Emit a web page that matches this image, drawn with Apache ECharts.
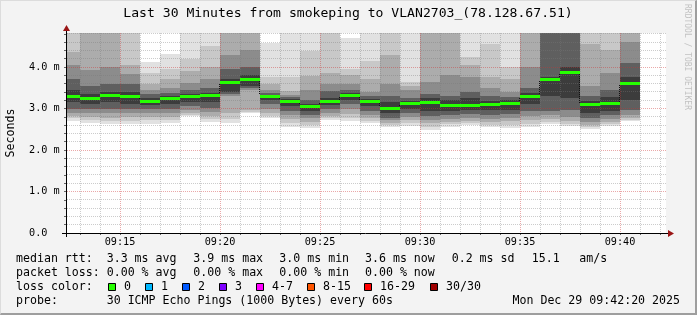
<!DOCTYPE html>
<html><head><meta charset="utf-8">
<script src="https://cdn.jsdelivr.net/npm/echarts@6/dist/echarts.min.js"></script>
<style>
html,body{margin:0;padding:0;background:#f3f3f3;}
#wrap{position:relative;width:697px;height:315px;overflow:hidden;background:#f3f3f3;}
#chart{position:absolute;left:0;top:0;width:697px;height:315px;}
#frame{position:absolute;left:0;top:0;width:697px;height:315px;box-sizing:border-box;border-top:1px solid #dcdcdc;border-left:1px solid #dcdcdc;border-right:2px solid #9e9e9e;border-bottom:2px solid #9e9e9e;pointer-events:none;}
</style></head><body>
<div id="wrap"><div id="chart"></div><div id="frame"></div></div>
<script>
// ---------------- data ----------------
const chartTitle = 'Last 30 Minutes from smokeping to VLAN2703_(78.128.67.51)';
const yUnitLabel = 'Seconds';
const watermark = 'RRDTOOL / TOBI OETIKER';

// column start minute (09:MM), each column spans one minute
const columnMinutes = [12,13,14,15,16,17,18,19,20,21,22,23,24,25,26,27,28,29,30,31,32,33,34,35,36,37,38,39,40];

// median rtt per column (ms)
const medianRtt = [3.30,3.24,3.31,3.29,3.17,3.24,3.30,3.32,3.63,3.71,3.29,3.16,3.06,3.17,3.32,3.17,3.00,3.12,3.14,3.07,3.07,3.09,3.12,3.30,3.69,3.87,3.10,3.11,3.61];

// smoke: lower ping quantiles (outer -> inner), ms
const smokeLow = [
 [2.70,2.76,2.82,2.90,3.00,3.15],
 [2.65,2.72,2.80,2.88,2.98,3.12],
 [2.62,2.70,2.78,2.88,3.00,3.15],
 [2.62,2.70,2.80,2.90,3.00,3.12],
 [2.62,2.72,2.80,2.88,2.98,3.08],
 [2.65,2.72,2.80,2.90,3.00,3.10],
 [2.82,2.85,2.90,2.97,3.05,3.15],
 [2.68,2.74,2.82,2.92,3.02,3.15],
 [2.66,2.75,2.90,3.30,3.35,3.40],
 [2.88,2.92,2.97,3.45,3.50,3.55],
 [2.76,2.82,2.90,3.00,3.10,3.20],
 [2.55,2.65,2.75,2.85,2.95,3.05],
 [2.53,2.60,2.68,2.76,2.85,2.95],
 [2.72,2.77,2.83,2.90,2.98,3.08],
 [2.71,2.78,2.87,2.98,3.10,3.20],
 [2.66,2.70,2.77,2.85,2.95,3.05],
 [2.55,2.60,2.66,2.72,2.78,2.88],
 [2.59,2.65,2.72,2.80,2.90,3.00],
 [2.49,2.56,2.64,2.72,2.82,2.95],
 [2.55,2.62,2.68,2.75,2.85,2.95],
 [2.61,2.65,2.70,2.78,2.87,2.97],
 [2.55,2.60,2.67,2.75,2.85,2.97],
 [2.54,2.60,2.70,2.78,2.87,2.97],
 [2.56,2.63,2.72,2.82,2.95,3.10],
 [2.63,2.68,2.75,2.85,2.95,3.30],
 [2.58,2.63,2.70,2.80,2.97,3.25],
 [2.51,2.55,2.60,2.67,2.76,2.88],
 [2.58,2.62,2.68,2.75,2.85,2.95],
 [2.70,2.73,2.78,2.85,2.97,3.20]
];
// smoke: upper ping quantiles (outer -> inner), ms (values above 4.82 run off the top)
const smokeHigh = [
 [5.00,5.00,4.37,4.05,3.72,3.45],
 [5.00,5.00,5.00,3.92,3.55,3.35],
 [5.00,5.00,5.00,4.00,3.60,3.40],
 [5.00,5.00,4.05,3.82,3.58,3.40],
 [4.13,3.85,3.60,3.45,3.35,3.25],
 [4.32,3.95,3.70,3.50,3.38,3.30],
 [5.00,4.20,3.90,3.62,3.45,3.35],
 [5.00,4.50,4.00,3.70,3.50,3.38],
 [5.00,5.00,5.00,4.30,3.95,3.72],
 [5.00,5.00,5.00,4.40,4.00,3.80],
 [4.58,3.75,3.60,3.45,3.38,3.33],
 [5.00,3.75,3.43,3.33,3.28,3.22],
 [5.00,4.38,3.78,3.45,3.20,3.10],
 [5.00,5.00,3.85,3.60,3.42,3.25],
 [4.70,3.95,3.80,3.60,3.45,3.38],
 [5.00,4.15,3.70,3.40,3.30,3.22],
 [5.00,5.00,4.30,3.60,3.30,3.15],
 [5.00,3.65,3.55,3.45,3.25,3.18],
 [5.00,5.00,5.00,3.65,3.35,3.25],
 [5.00,5.00,5.00,3.80,3.30,3.20],
 [5.00,4.25,4.05,3.75,3.40,3.25],
 [5.00,4.55,3.75,3.50,3.30,3.18],
 [5.00,4.00,3.70,3.40,3.28,3.20],
 [5.00,5.00,5.00,4.00,3.50,3.38],
 [5.00,5.00,5.00,5.00,5.00,3.75],
 [5.00,5.00,5.00,5.00,5.00,4.00],
 [5.00,5.00,4.55,3.55,3.30,3.18],
 [5.00,5.00,4.40,3.85,3.45,3.28],
 [5.00,5.00,5.00,4.60,4.10,3.75]
];

const xTickMinutes = [15,20,25,30,35,40];
const xTickLabels = ['09:15','09:20','09:25','09:30','09:35','09:40'];
const yTickValues = [0,1,2,3,4];
const yTickLabels = ['0.0','1.0 m','2.0 m','3.0 m','4.0 m'];

const rttHeader = 'median rtt:';
const rttStats = ['3.3 ms avg','3.9 ms max','3.0 ms min','3.6 ms now','0.2 ms sd','15.1','am/s'];
const lossHeader = 'packet loss:';
const lossStats = ['0.00 % avg','0.00 % max','0.00 % min','0.00 % now'];
const colorHeader = 'loss color:';
const lossBuckets = ['0','1','2','3','4-7','8-15','16-29','30/30'];
const lossColors = ['#26ff00','#00b8ff','#0059ff','#7e00ff','#ff00ff','#ff5500','#ff0000','#a00000'];
const probeHeader = 'probe:';
const probeText = '30 ICMP Echo Pings (1000 Bytes) every 60s';
const dateText = 'Mon Dec 29 09:42:20 2025';

// ---------------- styling / layout ----------------
const SHADES = ['#e1e1e1','#c8c8c8','#acacac','#8c8c8c','#5f5f5f','#3c3c3c'];
const MEDIAN_COLOR = '#26ff00';
const MONO = '"DejaVu Sans Mono"';
const X_MIN = 12.3, X_MAX = 42.3, Y_MAX = 4.82;
const GRID = {left:66, top:33, width:600, height:200};

// smoke items: outer pairs first so inner pairs paint over them
const smokeData = [];
for (let k = 0; k < SHADES.length; k++) {
  for (let i = 0; i < columnMinutes.length; i++) {
    smokeData.push([columnMinutes[i], columnMinutes[i] + 1, smokeLow[i][k], smokeHigh[i][k], k]);
  }
}
const medianData = columnMinutes.map((m, i) => [m, m + 1, medianRtt[i], i > 0 ? medianRtt[i-1] : medianRtt[i]]);

// grid lines: kind 0 minor x, 1 major x, 2 minor y, 3 major y
const gridData = [];
for (let m = 13; m <= 42; m++) gridData.push([m, xTickMinutes.indexOf(m) >= 0 ? 1 : 0]);
for (let j = 1; j <= 24; j++) { const v = j / 5; gridData.push([v, j % 5 === 0 ? 3 : 2]); }
const tickMinutes = []; for (let m = 13; m <= 42; m++) tickMinutes.push(m);
const yMinorTicks = []; for (let j = 0; j <= 24; j++) yMinorTicks.push(j / 5);

function renderSmoke(params, api) {
  const cs = params.coordSys;
  const p1 = api.coord([api.value(0), api.value(3)]);
  const p2 = api.coord([api.value(1), api.value(2)]);
  const x1 = Math.max(Math.round(p1[0]), cs.x + 1), x2 = Math.min(Math.round(p2[0]), cs.x + cs.width);
  const y1 = Math.max(Math.round(p1[1]), cs.y), y2 = Math.min(Math.round(p2[1]), cs.y + cs.height);
  if (x2 <= x1 || y2 <= y1) return null;
  return {type:'rect', shape:{x:x1, y:y1, width:x2 - x1, height:y2 - y1}, style:{fill:SHADES[api.value(4)]}};
}
function renderGrid(params, api) {
  const cs = params.coordSys;
  const kind = api.value(1), v = api.value(0);
  const major = kind === 1 || kind === 3;
  const stroke = major ? 'rgba(205,50,50,0.42)' : 'rgba(120,120,120,0.38)';
  if (kind < 2) {
    const x = Math.floor(api.coord([v, 0])[0]) + 0.5;
    return {type:'line', shape:{x1:x, y1:cs.y, x2:x, y2:cs.y + cs.height}, style:{stroke, lineWidth:1, lineDash:[1,1]}};
  }
  const y = Math.floor(api.coord([X_MIN, v])[1]) + 0.5;
  return {type:'line', shape:{x1:cs.x + 1, y1:y, x2:cs.x + cs.width, y2:y}, style:{stroke, lineWidth:1, lineDash:[1,1]}};
}
function renderMedian(params, api) {
  const cs = params.coordSys;
  const p1 = api.coord([api.value(0), api.value(2)]);
  const p2 = api.coord([api.value(1), api.value(2)]);
  const pPrev = api.coord([api.value(0), api.value(3)]);
  const x1 = Math.max(Math.round(p1[0]), cs.x + 1), x2 = Math.min(Math.round(p2[0]), cs.x + cs.width);
  const yc = Math.round(p1[1] - 1.5);
  const children = [{type:'rect', shape:{x:x1, y:yc, width:x2 - x1, height:3}, style:{fill:MEDIAN_COLOR}}];
  const yp = Math.round(pPrev[1] - 1.5);
  if (Math.abs(yp - yc) > 3) {
    const top = Math.min(yp, yc) + 3, bot = Math.max(yp, yc);
    children.push({type:'line', shape:{x1:x1 - 0.5, y1:top, x2:x1 - 0.5, y2:bot}, style:{stroke:'#111', lineWidth:1, lineDash:[1,1]}});
  }
  return {type:'group', children};
}

// ---------------- graphic texts ----------------
const legendFont = '11.6px ' + MONO;
function txt(x, y, text, opt) {
  opt = opt || {};
  return {type:'text', x, y, rotation: opt.rotation || 0, silent:true, z:100,
    style:{text, font: opt.font || legendFont, fill: opt.fill || '#000', align: opt.align || 'left', textAlign: opt.align || 'left', verticalAlign:'middle', textVerticalAlign:'middle'}};
}
const graphics = [];
graphics.push(txt(348, 13.5, chartTitle, {font:'13.1px ' + MONO, align:'center'}));
graphics.push(txt(10.5, 133, yUnitLabel, {rotation: Math.PI/2, align:'center'}));
graphics.push(txt(687, 4, watermark, {rotation: -Math.PI/2, font:'8px ' + MONO, fill:'#c2c2c2'}));
const row = [258.8, 272.8, 287.2, 301];
graphics.push(txt(16, row[0], rttHeader));
const rttX = [106.7, 193.3, 279.3, 365, 451.7, 531.7, 579.3];
rttStats.forEach((s, i) => graphics.push(txt(rttX[i], row[0], s)));
graphics.push(txt(16, row[1], lossHeader));
lossStats.forEach((s, i) => graphics.push(txt(rttX[i], row[1], s)));
graphics.push(txt(16, row[2], colorHeader));
const boxX = [108.5, 145.5, 182.5, 219.5, 256.5, 307.5, 364.5, 430.5];
lossBuckets.forEach((s, i) => {
  graphics.push({type:'rect', silent:true, z:100, shape:{x:boxX[i], y:283.5, width:7, height:7}, style:{fill:lossColors[i], stroke:'#000', lineWidth:1}});
  graphics.push(txt(boxX[i] + 15.5, row[2], s));
});
graphics.push(txt(16, row[3], probeHeader));
graphics.push(txt(106.7, row[3], probeText));
graphics.push(txt(680, row[3], dateText, {align:'right'}));
// axis extensions and arrows
graphics.push({type:'line', silent:true, z:100, shape:{x1:62, y1:233.5, x2:669, y2:233.5}, style:{stroke:'#000', lineWidth:1}});
graphics.push({type:'polygon', silent:true, z:100, shape:{points:[[668,230],[674,233.5],[668,237]]}, style:{fill:'#9a1515'}});
graphics.push({type:'line', silent:true, z:100, shape:{x1:66.5, y1:237, x2:66.5, y2:31}, style:{stroke:'#000', lineWidth:1}});
graphics.push({type:'polygon', silent:true, z:100, shape:{points:[[63,31],[66.5,25],[70,31]]}, style:{fill:'#9a1515'}});

const chart = echarts.init(document.getElementById('chart'), null, {renderer:'canvas'});
chart.setOption({
  animation:false,
  backgroundColor:'#f3f3f3',
  grid:{left:GRID.left, top:GRID.top, width:GRID.width, height:GRID.height, show:true, backgroundColor:'#ffffff', borderWidth:0, containLabel:false},
  xAxis:{type:'value', min:X_MIN, max:X_MAX,
    axisLine:{show:false},
    axisTick:{show:true, customValues:tickMinutes, length:2, lineStyle:{color:'#666'}},
    axisLabel:{customValues:xTickMinutes, formatter:v => xTickLabels[xTickMinutes.indexOf(Math.round(v))] || '', fontFamily:'DejaVu Sans Mono', fontSize:10.2, color:'#000', margin:4},
    splitLine:{show:false}},
  yAxis:{type:'value', min:0, max:Y_MAX, interval:1,
    axisLine:{show:false},
    axisTick:{show:true, customValues:yMinorTicks, length:2, lineStyle:{color:'#666'}},
    axisLabel:{customValues:yTickValues, formatter:v => yTickLabels[yTickValues.indexOf(Math.round(v))] || '', fontFamily:'DejaVu Sans Mono', fontSize:10.2, color:'#000', align:'left', margin:37},
    splitLine:{show:false}},
  graphic: graphics,
  series:[
    {type:'custom', name:'smoke', z:2, silent:true, renderItem:renderSmoke, data:smokeData, encode:{x:[0,1], y:[2,3]}},
    {type:'custom', name:'grid', z:3, silent:true, renderItem:renderGrid, data:gridData},
    {type:'custom', name:'median', z:4, silent:true, renderItem:renderMedian, data:medianData, encode:{x:[0,1], y:[2]}}
  ]
});
</script>
</body></html>
